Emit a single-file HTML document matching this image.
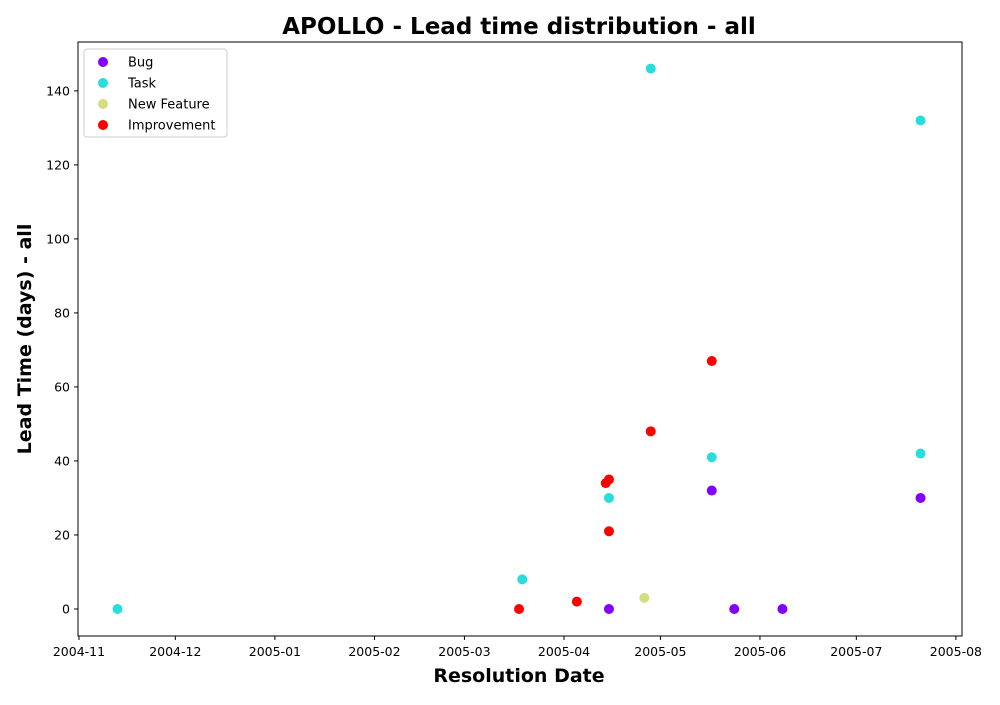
<!DOCTYPE html>
<html><head><meta charset="utf-8"><style>
body{margin:0;background:#fff;font-family:"Liberation Sans","DejaVu Sans",sans-serif;}
svg text{font-family:"DejaVu Sans","Liberation Sans",sans-serif;}
</style></head><body>
<svg id="chart" width="1000" height="700">
<text x="519" y="34" text-anchor="middle" font-size="23" font-weight="bold">APOLLO - Lead time distribution - all</text>
<text x="519" y="682" text-anchor="middle" font-size="19" font-weight="bold">Resolution Date</text>
<text transform="translate(31,339) rotate(-90)" text-anchor="middle" font-size="19" font-weight="bold">Lead Time (days) - all</text>
<g id="marks"></g>
<rect x="78" y="42" width="884" height="594" fill="none" stroke="#000" stroke-width="1"/>
<g id="legend"></g>
</svg>
<script>
const seriesNames=["Bug","Task","New Feature","Improvement"];
const seriesColors=["#8000ff","#2adddd","#d4dd80","#ff0000"];
const bugDates=["2005-04-15","2005-05-17","2005-05-24","2005-06-08","2005-07-21"];
const bugValues=[0,32,0,0,30];
const taskDates=["2004-11-13","2005-03-19","2005-04-15","2005-04-28","2005-05-17","2005-07-21","2005-07-21"];
const taskValues=[0,8,30,146,41,132,42];
const featureDates=["2005-04-26"];
const featureValues=[3];
const improvementDates=["2005-03-18","2005-04-05","2005-04-14","2005-04-15","2005-04-15","2005-04-28","2005-05-17"];
const improvementValues=[0,2,34,35,21,48,67];
const xTickLabels=["2004-11","2004-12","2005-01","2005-02","2005-03","2005-04","2005-05","2005-06","2005-07","2005-08"];
const yTickValues=[0,20,40,60,80,100,120,140];

const NS="http://www.w3.org/2000/svg";
const svg=document.getElementById('chart');
const base=Date.UTC(2004,10,1);
function dayOf(s){const p=s.split('-').map(Number);return (Date.UTC(p[0],p[1]-1,p[2]||1)-base)/86400000;}
const X0=78,X1=962,Y0=636,Y1=42;
const dMin=-0.3,dMax=dayOf("2005-08-01")+1.9;
const vMin=-7.3,vMax=153.2;
function xs(s){return X0+(dayOf(s)-dMin)/(dMax-dMin)*(X1-X0);}
function ys(v){return Y0-(v-vMin)/(vMax-vMin)*(Y0-Y1);}
function el(t,a,parent){const e=document.createElementNS(NS,t);for(const k in a)e.setAttribute(k,a[k]);(parent||svg).appendChild(e);return e;}

xTickLabels.forEach(l=>{const x=xs(l);
 const t=el('line',{x1:x,x2:x,y1:636,y2:640,stroke:'#000'});
 
 
 const tx=el('text',{x:x,y:656,'text-anchor':'middle','font-size':12.5});tx.textContent=l;
 
 
});
yTickValues.forEach(v=>{const y=ys(v);
 const t=el('line',{x1:74,x2:78,y1:y,y2:y,stroke:'#000'});
 
 
 const tx=el('text',{x:70,y:y+4.5,'text-anchor':'end','font-size':12.5});tx.textContent=v;
 
 
});
const marks=document.getElementById('marks');
const all=[[bugDates,bugValues],[taskDates,taskValues],[featureDates,featureValues],[improvementDates,improvementValues]];
all.forEach((s,i)=>{s[0].forEach((d,j)=>{
 const c=el('circle',{cx:xs(d),cy:ys(s[1][j]),r:5,fill:seriesColors[i]},marks);
 
 
});});
const lg=document.getElementById('legend');
el('rect',{x:84,y:49,width:143,height:88,rx:3,fill:'#fff',stroke:'#ccc'},lg);
seriesNames.forEach((n,i)=>{const y=62+i*21;
 const c=el('circle',{cx:103,cy:y,r:5,fill:seriesColors[i]},lg);
 
 
 const t=el('text',{x:128,y:y+4.5,'font-size':13},lg);t.textContent=n;
 
 
});
</script>
</body></html>
